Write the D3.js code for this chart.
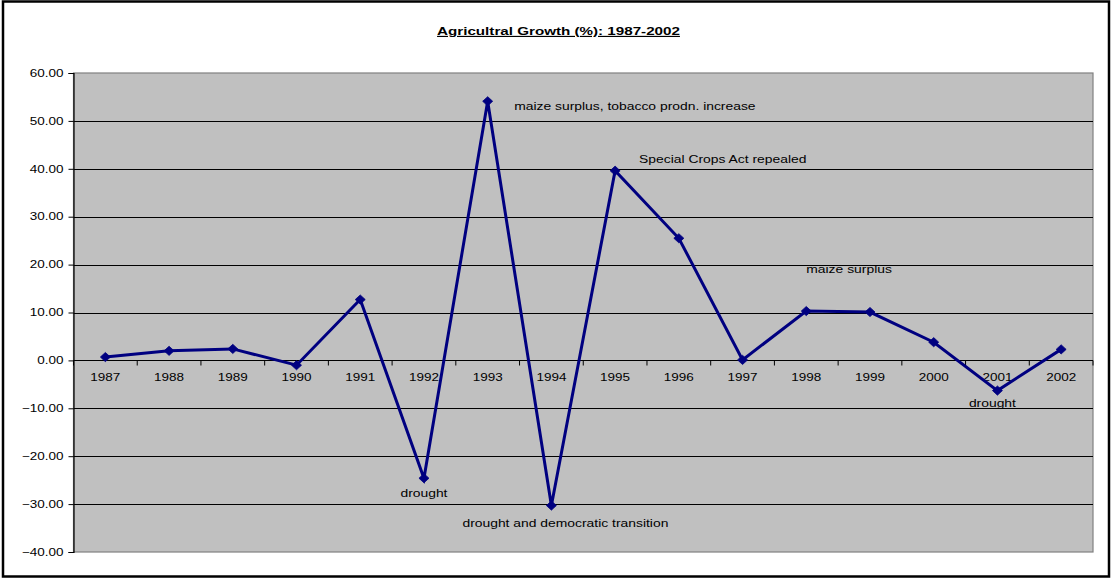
<!DOCTYPE html>
<html>
<head>
<meta charset="utf-8">
<script src="https://cdn.jsdelivr.net/npm/d3@7"></script>
<style>
  html, body { margin: 0; padding: 0; background: #fff; }
  svg { display: block; }
  text { font-family: Arial, "Liberation Sans", sans-serif; fill: #000; }
</style>
</head>
<body>
<div id="chart"></div>
<script>
// ---- data ----
const years = ["1987","1988","1989","1990","1991","1992","1993","1994","1995","1996","1997","1998","1999","2000","2001","2002"];
const growth = [0.7, 2.0, 2.4, -1.0, 12.7, -24.6, 54.1, -30.3, 39.6, 25.5, 0.1, 10.3, 10.1, 3.8, -6.3, 2.3];
const yTicks = [-40, -30, -20, -10, 0, 10, 20, 30, 40, 50, 60];
const noteYears = ["1992", "1993", "1994", "1995", "1998", "2001"];
const noteTexts = ["drought", "maize surplus, tobacco prodn. increase", "drought and democratic transition",
                   "Special Crops Act repealed", "maize surplus", "drought"];
const titleText = "Agricultral Growth (%): 1987-2002";

// ---- layout ----
const W = 1112, H = 579;
const plot = { left: 73.5, right: 1093, top: 73, bottom: 552 };
const SX = 1.31; // horizontal text stretch of the original rendering
const noteLayout = [
  { dx: 0, dy: 19, anchor: "middle" },
  { dx: 26.5, dy: 9, anchor: "start" },
  { dx: 14, dy: 21.5, anchor: "middle" },
  { dx: 24, dy: -7.5, anchor: "start" },
  { dx: 0, dy: -38.5, anchor: "start" },
  { dx: -5, dy: 16, anchor: "middle" }
];

const svg = d3.select("#chart").append("svg").attr("width", W).attr("height", H);

// outer border
svg.append("rect").attr("x", 3).attr("y", 1.5).attr("width", 1106).attr("height", 575)
  .attr("fill", "#fff").attr("stroke", "#000").attr("stroke-width", 2.5);

const x = d3.scaleBand().domain(years).range([plot.left, plot.right]).padding(0);
const y = d3.scaleLinear().domain([-40, 60]).range([plot.bottom, plot.top]);

function stretchedText(g, tx, ty, str, size, anchor, weight) {
  return g.append("text")
    .attr("transform", `translate(${tx},${ty}) scale(${SX},1)`)
    .attr("text-anchor", anchor)
    .attr("font-size", size)
    .attr("font-weight", weight || "normal")
    .text(str);
}

// plot area
svg.append("rect").attr("x", plot.left).attr("y", plot.top)
  .attr("width", plot.right - plot.left).attr("height", plot.bottom - plot.top)
  .attr("fill", "#c0c0c0").attr("stroke", "#808080").attr("stroke-width", 1.2);

// gridlines
svg.append("g").selectAll("line").data(yTicks.filter(t => t !== -40 && t !== 60)).join("line")
  .attr("x1", plot.left).attr("x2", plot.right)
  .attr("y1", d => Math.round(y(d)) + 0.5).attr("y2", d => Math.round(y(d)) + 0.5)
  .attr("stroke", "#000").attr("stroke-width", 1);

// y axis
const yAxis = d3.axisLeft(y).tickValues(yTicks).tickSize(5).tickFormat("");
const gy = svg.append("g").attr("transform", `translate(${plot.left},0)`).call(yAxis);
gy.select(".domain").attr("stroke", "#000").attr("stroke-width", 1.2);
gy.selectAll(".tick line").attr("stroke", "#000");
yTicks.forEach(t => {
  stretchedText(svg, 63.5, y(t) + 3.7, d3.format(".2f")(t), 10.3, "end");
});

// x axis along zero, ticks at band boundaries
const zeroY = Math.round(y(0)) + 0.5;
svg.append("line").attr("x1", plot.left).attr("x2", plot.right)
  .attr("y1", zeroY).attr("y2", zeroY).attr("stroke", "#000").attr("stroke-width", 1.2);
const bounds = years.map(d => x(d)).concat([plot.right]);
svg.append("g").selectAll("line").data(bounds).join("line")
  .attr("x1", d => d).attr("x2", d => d)
  .attr("y1", zeroY).attr("y2", zeroY + 5)
  .attr("stroke", "#000").attr("stroke-width", 1);
years.forEach(yr => {
  stretchedText(svg, x(yr) + x.bandwidth() / 2, zeroY + 20.3, yr, 10.3, "middle");
});

// line
const cx = yr => x(yr) + x.bandwidth() / 2;
const line = d3.line().x((d, i) => cx(years[i])).y(d => y(d));
svg.append("path").datum(growth).attr("d", line)
  .attr("fill", "none").attr("stroke", "#000080").attr("stroke-width", 3)
  .attr("stroke-linejoin", "miter");

// diamond markers
svg.append("g").selectAll("path").data(growth).join("path")
  .attr("d", "M0,-4.6L5,0L0,4.6L-5,0Z")
  .attr("transform", (d, i) => `translate(${cx(years[i])},${y(d)})`)
  .attr("fill", "#000080").attr("stroke", "#000080").attr("stroke-width", 0.8);

// annotations
noteYears.forEach((yr, k) => {
  const i = years.indexOf(yr);
  const L = noteLayout[k];
  stretchedText(svg, cx(yr) + L.dx, y(growth[i]) + L.dy, noteTexts[k], 10.6, L.anchor);
});

// title
stretchedText(svg, 558.5, 35, titleText, 11.6, "middle", "bold")
  .attr("text-decoration", "underline");
</script>
</body>
</html>
